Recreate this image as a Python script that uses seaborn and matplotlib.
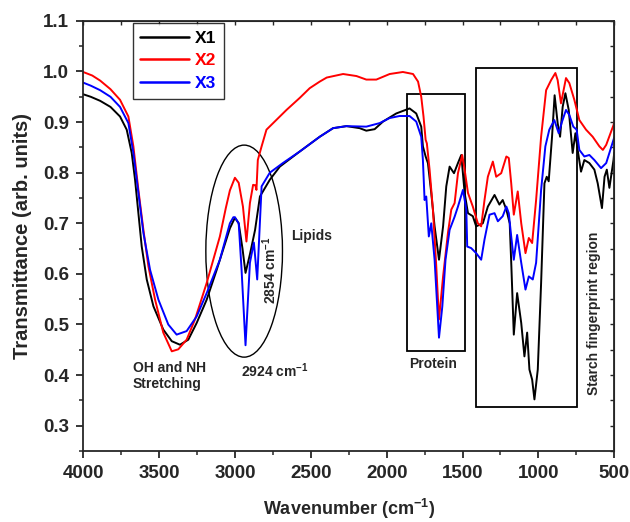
import numpy as np
import pandas as pd
import matplotlib
matplotlib.use("Agg")
import matplotlib.pyplot as plt
from matplotlib.patches import Ellipse, Rectangle
import seaborn as sns

x1_wn = [4000, 3950, 3888, 3820, 3757, 3713, 3680, 3658, 3636, 3614, 3581, 3537, 3472, 3416,
         3362, 3307, 3252, 3186, 3120, 3033, 3000, 2975, 2950, 2930, 2900, 2867, 2835, 2770,
         2704, 2572, 2441, 2353, 2265, 2178, 2134, 2079, 2024, 1937, 1849, 1805, 1772, 1761,
         1743, 1728, 1706, 1684, 1655, 1628, 1607, 1585, 1556, 1530, 1508, 1486, 1464, 1432,
         1410, 1366, 1333, 1289, 1257, 1235, 1211, 1189, 1178, 1162, 1140, 1113, 1092, 1074,
         1059, 1041, 1026, 1004, 982, 960, 945, 932, 910, 893, 873, 857, 840, 822, 800, 774,
         756, 741, 719, 697, 664, 631, 609, 581, 564, 549, 532, 505, 500]
x1_tr = [0.955, 0.950, 0.942, 0.930, 0.911, 0.885, 0.839, 0.786, 0.720, 0.654, 0.589, 0.536,
         0.490, 0.467, 0.460, 0.470, 0.503, 0.549, 0.608, 0.690, 0.711, 0.700, 0.650, 0.602,
         0.640, 0.687, 0.753, 0.786, 0.812, 0.842, 0.871, 0.888, 0.892, 0.888, 0.883, 0.886,
         0.901, 0.917, 0.927, 0.917, 0.891, 0.852, 0.832, 0.819, 0.760, 0.694, 0.628, 0.694,
         0.773, 0.812, 0.799, 0.819, 0.835, 0.760, 0.720, 0.714, 0.694, 0.700, 0.733, 0.756,
         0.737, 0.746, 0.727, 0.700, 0.615, 0.480, 0.562, 0.503, 0.437, 0.484, 0.411, 0.391,
         0.352, 0.411, 0.582, 0.779, 0.792, 0.783, 0.871, 0.953, 0.898, 0.871, 0.930, 0.957,
         0.924, 0.839, 0.878, 0.845, 0.802, 0.825, 0.819, 0.806, 0.779, 0.730, 0.792, 0.806,
         0.770, 0.825, 0.840]

x2_wn = [4000, 3940, 3888, 3820, 3757, 3702, 3669, 3636, 3603, 3570, 3526, 3472, 3416, 3373,
         3318, 3263, 3186, 3099, 3060, 3033, 3000, 2975, 2947, 2924, 2901, 2880, 2865, 2858,
         2849, 2824, 2792, 2660, 2572, 2507, 2441, 2395, 2287, 2199, 2134, 2068, 1980, 1893,
         1826, 1793, 1772, 1757, 1743, 1735, 1717, 1695, 1673, 1655, 1628, 1596, 1574, 1552,
         1530, 1502, 1486, 1464, 1432, 1399, 1377, 1355, 1333, 1300, 1278, 1245, 1211, 1195,
         1179, 1162, 1136, 1113, 1085, 1063, 1041, 1015, 982, 949, 916, 888, 873, 851, 818,
         796, 763, 730, 686, 642, 598, 575, 553, 505, 500]
x2_tr = [0.999, 0.992, 0.982, 0.965, 0.944, 0.911, 0.852, 0.766, 0.687, 0.615, 0.549, 0.484,
         0.447, 0.451, 0.470, 0.510, 0.582, 0.674, 0.730, 0.765, 0.790, 0.780, 0.733, 0.664,
         0.740, 0.776, 0.775, 0.766, 0.825, 0.852, 0.885, 0.924, 0.948, 0.967, 0.980, 0.988,
         0.995, 0.991, 0.984, 0.984, 0.995, 0.999, 0.995, 0.980, 0.950, 0.911, 0.865, 0.858,
         0.806, 0.727, 0.615, 0.510, 0.595, 0.681, 0.727, 0.740, 0.799, 0.835, 0.806, 0.760,
         0.733, 0.700, 0.694, 0.746, 0.792, 0.822, 0.792, 0.799, 0.832, 0.829, 0.779, 0.717,
         0.763, 0.700, 0.641, 0.671, 0.661, 0.746, 0.871, 0.963, 0.983, 0.997, 0.983, 0.937,
         0.987, 0.977, 0.944, 0.904, 0.885, 0.871, 0.852, 0.845, 0.855, 0.894, 0.900]

x3_wn = [4000, 3950, 3888, 3820, 3757, 3702, 3669, 3636, 3603, 3559, 3504, 3439, 3384, 3318,
         3252, 3186, 3099, 3033, 3010, 3000, 2975, 2956, 2930, 2901, 2875, 2853, 2824, 2770,
         2684, 2572, 2441, 2353, 2265, 2134, 2046, 1980, 1915, 1849, 1805, 1772, 1761, 1750,
         1739, 1722, 1706, 1684, 1655, 1633, 1612, 1585, 1552, 1530, 1497, 1475, 1469, 1443,
         1410, 1377, 1355, 1322, 1289, 1267, 1235, 1211, 1195, 1179, 1162, 1140, 1113, 1085,
         1063, 1037, 1015, 982, 954, 928, 895, 866, 844, 818, 796, 770, 748, 730, 697, 664,
         631, 587, 553, 505, 500]
x3_tr = [0.978, 0.972, 0.963, 0.950, 0.930, 0.898, 0.839, 0.760, 0.681, 0.608, 0.549, 0.500,
         0.480, 0.487, 0.516, 0.562, 0.628, 0.700, 0.712, 0.712, 0.700, 0.608, 0.459, 0.622,
         0.662, 0.589, 0.773, 0.800, 0.819, 0.842, 0.871, 0.888, 0.892, 0.891, 0.898, 0.908,
         0.912, 0.912, 0.901, 0.871, 0.825, 0.746, 0.753, 0.674, 0.700, 0.628, 0.474, 0.536,
         0.628, 0.687, 0.713, 0.733, 0.766, 0.727, 0.654, 0.651, 0.641, 0.628, 0.668, 0.717,
         0.720, 0.704, 0.714, 0.733, 0.720, 0.674, 0.628, 0.677, 0.622, 0.569, 0.595, 0.589,
         0.622, 0.766, 0.852, 0.885, 0.904, 0.878, 0.901, 0.924, 0.914, 0.891, 0.885, 0.845,
         0.832, 0.835, 0.825, 0.809, 0.819, 0.865, 0.870]

sample_names = ["X1", "X2", "X3"]
line_colors = ["black", "red", "blue"]

frames = []
for name, wn, tr in zip(sample_names, [x1_wn, x2_wn, x3_wn], [x1_tr, x2_tr, x3_tr]):
    frames.append(pd.DataFrame({"wn": wn, "tr": tr, "sample": name}))
df = pd.concat(frames, ignore_index=True)

sns.set_style("ticks")
plt.rcParams["font.family"] = ["Liberation Sans", "DejaVu Sans"]
plt.rcParams["font.weight"] = "bold"
plt.rcParams["mathtext.default"] = "regular"

fig, ax = plt.subplots(figsize=(6.3, 5.22), dpi=100)
fig.subplots_adjust(left=0.132, right=0.975, top=0.960, bottom=0.136)

sns.lineplot(data=df, x="wn", y="tr", hue="sample", palette=line_colors,
             estimator=None, sort=False, linewidth=1.4, ax=ax)

ax.set_xlim(4000, 500)
ax.set_ylim(0.25, 1.1)
ax.set_xticks(np.arange(500, 4001, 500))
ax.set_xticks(np.arange(750, 4000, 500), minor=True)
ax.set_yticks(np.arange(0.3, 1.11, 0.1))
ax.set_yticks(np.arange(0.25, 1.1, 0.1), minor=True)
ax.yaxis.set_major_formatter(matplotlib.ticker.FormatStrFormatter("%.1f"))
ax.tick_params(which="major", direction="out", length=5, width=1.3, labelsize=13.5, pad=5)
ax.tick_params(which="minor", direction="out", length=3, width=1.1)
for lab in ax.get_xticklabels() + ax.get_yticklabels():
    lab.set_fontweight("bold")
for sp in ax.spines.values():
    sp.set_linewidth(1.3)
    sp.set_visible(True)

# mirrored inward ticks on top and right
top = ax.secondary_xaxis("top")
top.set_xticks(np.arange(500, 4001, 250))
top.tick_params(direction="in", length=3, width=1.0, labeltop=False)
right = ax.secondary_yaxis("right")
right.set_yticks(np.arange(0.25, 1.101, 0.05))
right.tick_params(direction="in", length=3, width=1.0, labelright=False)

ax.set_xlabel("Wavenumber (cm$^{-1}$)", fontsize=13, fontweight="bold", labelpad=11)
ax.set_ylabel("Transmittance (arb. units)", fontsize=14.5, fontweight="bold", labelpad=8)

# annotations
ax.add_patch(Ellipse((2939, 0.645), width=505, height=0.419, fill=False,
                     edgecolor="black", linewidth=1.0))
ax.add_patch(Rectangle((1482, 0.447), 384, 0.5085, fill=False,
                       edgecolor="black", linewidth=1.3))
ax.add_patch(Rectangle((748, 0.337), 666, 0.669, fill=False,
                       edgecolor="black", linewidth=1.3))

ax.text(3673, 0.398, "OH and NH\nStretching", fontsize=10, fontweight="bold",
        ha="left", va="center", linespacing=1.2)
ax.text(2963, 0.408, "2924 cm$^{-1}$", fontsize=10, fontweight="bold",
        ha="left", va="center")
ax.text(2770, 0.608, "2854 cm$^{-1}$", fontsize=10, fontweight="bold",
        ha="center", va="center", rotation=90)
ax.text(2627, 0.674, "Lipids", fontsize=10, fontweight="bold", ha="left", va="center")
ax.text(1697, 0.422, "Protein", fontsize=10, fontweight="bold", ha="center", va="center")
ax.text(632, 0.522, "Starch fingerprint region", fontsize=10, fontweight="bold",
        ha="center", va="center", rotation=90)

leg = ax.legend(loc="upper left", bbox_to_anchor=(0.093, 0.995), borderaxespad=0,
                fontsize=12.5, frameon=True, fancybox=False, edgecolor="black",
                handlelength=2.8, handletextpad=0.35, labelspacing=0.42,
                borderpad=0.45, title=None)
leg.get_frame().set_linewidth(1.0)
for txt, col in zip(leg.get_texts(), line_colors):
    txt.set_color(col)
    txt.set_fontweight("bold")
for ln in leg.get_lines():
    ln.set_linewidth(1.8)

fig.savefig("out.png", dpi=100)
